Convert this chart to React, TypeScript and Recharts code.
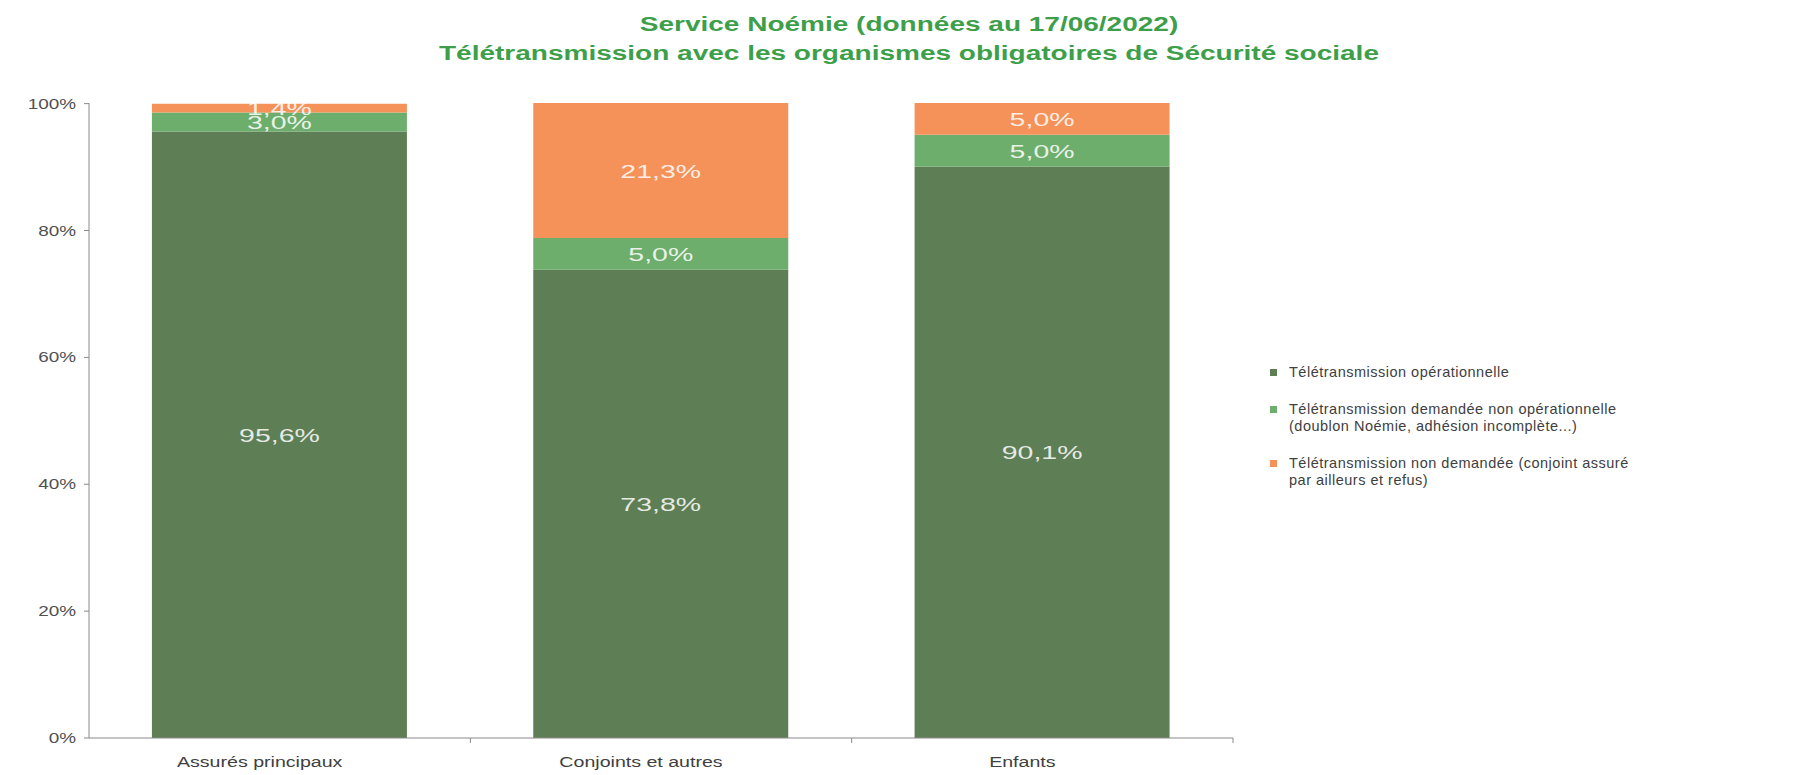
import React from "react";
import { BarChart, Bar, XAxis, YAxis, Legend, LabelList } from "recharts";

const categories = ["Assurés principaux", "Conjoints et autres", "Enfants"];
const operationnelle = [95.6, 73.8, 90.1];
const demandeeNonOp = [3.0, 5.0, 5.0];
const nonDemandee = [1.4, 21.3, 5.0];
const yTicks = [0, 20, 40, 60, 80, 100];

const seriesNames = [
  "Télétransmission opérationnelle",
  "Télétransmission demandée non opérationnelle\n(doublon Noémie, adhésion incomplète...)",
  "Télétransmission non demandée (conjoint assuré\npar ailleurs et refus)",
];
const colors = ["#5E7E55", "#6DAE6C", "#F5925A"];
const titleLines = [
  "Service Noémie (données au 17/06/2022)",
  "Télétransmission avec les organismes obligatoires de Sécurité sociale",
];

const data = categories.map((c, i) => ({
  name: c,
  op: operationnelle[i],
  dem: demandeeNonOp[i],
  non: nonDemandee[i],
}));

const W = 1778;
const H = 767;
const M = { top: 95, right: 553, left: 0, bottom: 7 };
const Y_W = 81;
const BAND = (W - M.left - M.right - Y_W) / categories.length;

const fmt = (v: any) => `${Number(v).toFixed(1).replace(".", ",")}%`;
const FONT = "'Liberation Sans', Arial, sans-serif";

const XTick = (props: any) => {
  const { x, y, payload } = props;
  return (
    <g>
      <line x1={x + BAND / 2} x2={x + BAND / 2} y1={y - 8} y2={y - 3} stroke="#8a8a8a" />
      <text
        transform={`translate(${x - 20},${y + 21}) scale(1.4,1)`}
        textAnchor="middle"
        fontSize={14}
        fill="#404040"
        fontFamily={FONT}
      >
        {payload.value}
      </text>
    </g>
  );
};

const YTick = (props: any) => {
  const { x, y, payload } = props;
  return (
    <text
      transform={`translate(${x - 6},${y + 5}) scale(1.35,1)`}
      textAnchor="end"
      fontSize={14}
      fill="#505050"
      fontFamily={FONT}
    >
      {`${payload.value}%`}
    </text>
  );
};

const DataLabel = (props: any) => {
  const { x, y, width, height, value } = props;
  const cx = x + width / 2;
  const cy = y + height / 2;
  return (
    <text
      transform={`translate(${cx},${cy + 7}) scale(1.5,1)`}
      textAnchor="middle"
      fontSize={19}
      fill="#ffffff"
      fillOpacity={0.85}
      fontFamily={FONT}
    >
      {fmt(value)}
    </text>
  );
};

const LegendContent = (props: any) => {
  const payload = [...(props.payload || [])].sort(
    (a: any, b: any) => seriesNames.indexOf(a.value) - seriesNames.indexOf(b.value)
  );
  return (
    <div style={{ fontFamily: FONT, fontSize: 14.5, color: "#404040" }}>
      {payload.map((p: any, i: number) => (
        <div key={i} style={{ display: "flex", alignItems: "flex-start", marginBottom: 20 }}>
          <span
            style={{
              display: "inline-block",
              width: 7,
              height: 7,
              background: p.color,
              marginTop: 5,
              marginRight: 12,
              flex: "none",
            }}
          />
          <span style={{ whiteSpace: "pre-line", lineHeight: "17px", letterSpacing: 0.5 }}>{p.value}</span>
        </div>
      ))}
    </div>
  );
};

export default function App() {
  const keys = ["op", "dem", "non"];
  return (
    <div style={{ position: "relative", width: W, height: H, background: "#fff" }}>
      <div
        style={{
          position: "absolute",
          left: 0,
          width: W,
          top: 2,
          textAlign: "center",
          fontFamily: FONT,
          fontWeight: "bold",
          fontSize: 20,
          color: "#3E9F4B",
          lineHeight: "29px",
          paddingLeft: 28,
          boxSizing: "border-box",
          transform: "scaleX(1.4)",
          transformOrigin: "908px 0",
        }}
      >
        {titleLines.map((t, i) => (
          <div key={i}>{t}</div>
        ))}
      </div>
      <BarChart width={W} height={H} data={data} margin={M} barCategoryGap="16.5%">
        <XAxis
          dataKey="name"
          tick={<XTick />}
          tickLine={false}
          axisLine={{ stroke: "#8a8a8a" }}
          height={30}
          interval={0}
        />
        <YAxis
          domain={[0, 100]}
          ticks={yTicks}
          width={Y_W}
          tick={<YTick />}
          tickLine={{ stroke: "#8a8a8a" }}
          tickSize={5}
          axisLine={{ stroke: "#8a8a8a" }}
        />
        <Legend
          layout="horizontal"
          align="center"
          verticalAlign="middle"
          wrapperStyle={{ left: 1262, top: 356, width: 520 }}
          content={<LegendContent />}
        />
        {keys.map((k, i) => (
          <Bar
            key={k}
            dataKey={k}
            stackId="a"
            name={seriesNames[i]}
            fill={colors[i]}
            isAnimationActive={false}
          >
            <LabelList dataKey={k} content={<DataLabel />} />
          </Bar>
        ))}
      </BarChart>
    </div>
  );
}
